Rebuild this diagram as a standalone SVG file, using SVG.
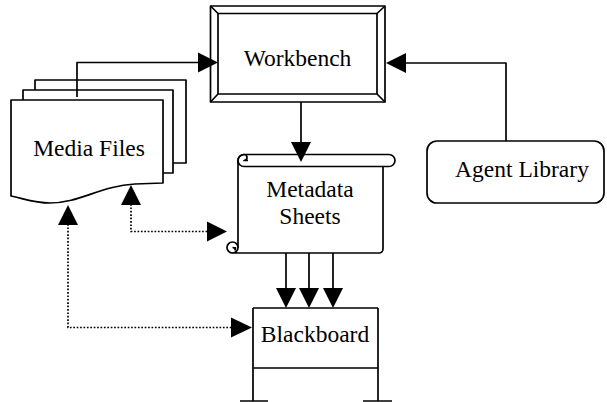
<svg xmlns="http://www.w3.org/2000/svg" width="607" height="402" viewBox="0 0 607 402">
<style>
.s{fill:none;stroke:#000;stroke-width:1.7;stroke-linejoin:round}
.w{fill:#fff;stroke:#000;stroke-width:1.7;stroke-linejoin:round}
.d{fill:none;stroke:#000;stroke-width:1.7;stroke-dasharray:1.7 1.7}
.a{fill:#000;stroke:none}
text{font-family:"Liberation Serif","Times New Roman",serif;font-size:23.5px;fill:#000;text-anchor:middle}
</style>
<rect width="607" height="402" fill="#fff"/>
<g id="media-files">
<path class="w" d="M35,90 V80 H186 V163 H173"/>
<path class="w" d="M23,100 V90 H173 V173 H163"/>
<path class="w" d="M11,100 H163 V183 L135,184 C100,186 80,203 50,203 C35,203 25,199 11,196 Z"/>
<text x="89" y="156">Media Files</text>
</g>
<g id="workbench">
<rect class="w" x="210.5" y="6" width="174.5" height="96"/>
<rect class="s" x="218" y="13.5" width="159" height="80.5"/>
<path class="s" d="M210.5,6 L218,13.5 M385,6 L377,13.5 M210.5,102 L218,94 M385,102 L377,94"/>
<text x="297.5" y="66">Workbench</text>
</g>
<g id="agent-library">
<rect class="w" x="427" y="141" width="177" height="62" rx="10" ry="10"/>
<text x="522" y="177">Agent Library</text>
</g>
<g id="metadata-sheets">
<path class="w" d="M238,160.5 V247.5 A5.5,5.5 0 0 1 232.5,253 H379 A4,4 0 0 0 383,249 V166.5 H389 A6,6 0 0 0 389,154.5 H244 A6,6 0 0 0 238,160.5 Z"/>
<path class="s" d="M244,166.5 A6,6 0 0 1 244,154.5 M244,166.5 H383 M244,154.5 A3,3 0 0 1 244,160.5 H248"/>
<path class="s" d="M232.5,253 A5.5,5.5 0 0 1 232.5,242 A5.5,5.5 0 0 1 238,247.5 M232.5,247.5 A2.75,2.75 0 0 1 235.25,250.25 M235.3,247 V250.5"/>
<text x="310" y="197">Metadata</text>
<text x="310" y="224">Sheets</text>
</g>
<g id="blackboard">
<path class="s" d="M253,308 H378 M253,308 V401 M378,308 V401 M253,368 H378 M240,401 H268 M363,401 H392"/>
<text x="315" y="342">Blackboard</text>
</g>
<g id="connectors">
<path class="s" d="M77,97 V62.5 H200"/>
<polygon class="a" points="218,62.5 198,52.5 198,72.5"/>
<path class="s" d="M506,141 V63 H404"/>
<polygon class="a" points="386,63 406,53 406,73"/>
<path class="s" d="M301,102 V144"/>
<polygon class="a" points="301,162 291,142 311,142"/>
<path class="s" d="M286,253 V290 M309,253 V290 M333,253 V290"/>
<polygon class="a" points="286,308 276,288 296,288"/>
<polygon class="a" points="309,308 299,288 319,288"/>
<polygon class="a" points="333,308 323,288 343,288"/>
<path class="d" d="M68,224 V327.5 H232"/>
<polygon class="a" points="68,205 58,225 78,225"/>
<polygon class="a" points="252,327.5 231,317.5 231,337.5"/>
<path class="d" d="M131,204 V231.5 H208"/>
<polygon class="a" points="131,185 121,205 141,205"/>
<polygon class="a" points="227,231.5 207,221.5 207,241.5"/>
</g>
</svg>
